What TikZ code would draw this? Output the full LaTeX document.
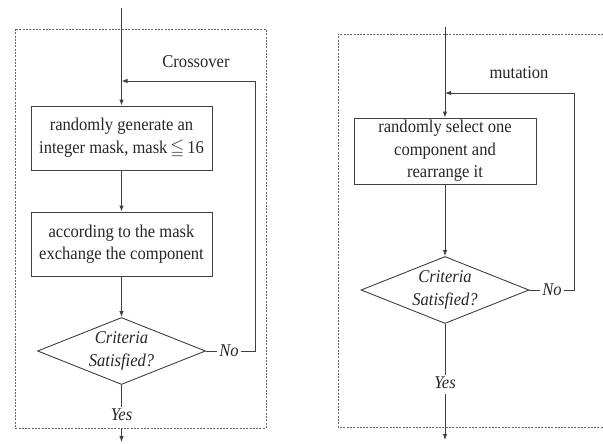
\documentclass[tikz,border=0pt]{standalone}
\usepackage{amssymb}
\usepackage{fontspec}
\setmainfont{Liberation Serif}[FakeStretch=0.92]
\usetikzlibrary{arrows.meta,shapes.geometric}
\begin{document}
\begin{tikzpicture}[x=1pt,y=-1pt,
  every node/.style={font=\fontsize{18}{22.5}\selectfont, text=black!85},
  ln/.style={draw=black!75, line width=0.9pt},
  arr/.style={ln, -{Latex[length=6pt,width=4.5pt]}},
  frame/.style={draw=black!60, line width=0.8pt, dash pattern=on 2pt off 1.3pt},
  procbox/.style={draw=black!75, line width=0.9pt, rectangle, inner sep=1pt, align=center},
  dia/.style={draw=black!75, line width=0.9pt, diamond, inner sep=0pt, minimum width=168pt, minimum height=67pt},
  lbl/.style={inner sep=2pt, font=\fontsize{18}{22.5}\selectfont\itshape}
]
\useasboundingbox (0,0) rectangle (603,444);
% frames
\draw[frame] (15,29) rectangle (266,428);
\draw[frame] (603,34) -- (338,34) -- (338,427) -- (603,427);

% left flow
\coordinate (top1) at (121.5,8);
\node[procbox, minimum width=181pt, minimum height=64pt] (b1) at (121.5,138) {randomly generate an\\integer mask, mask$\,\leqq\,$16};
\node[procbox, minimum width=181pt, minimum height=64pt] (b2) at (121.5,244) {according to the mask\\exchange the component};
\node[dia, label={[lbl, align=center]center:Criteria\\Satisfied?}] (d1) at (121.5,351) {};
\node[lbl] (no1) at (229,351) {No};
\node[lbl] (yes1) at (121.5,415) {Yes};
\node (cross) at (196,62) {Crossover};
\coordinate (f1) at (255,81);
\coordinate (m1) at (121.5,81);
\coordinate (bot1) at (121.5,442);
\coordinate (s1) at (121.5,429);

\draw[arr] (top1) -- (b1.north);
\draw[arr] (b1.south) -- (b2.north);
\draw[arr] (b2.south) -- (d1.north);
\draw[ln] (d1.east) -- (no1.west);
\draw[arr] (no1.east) -| (f1) -- (m1);
\draw[ln] (d1.south) -- (yes1.north);
\draw[arr] (s1) -- (bot1);

% right flow
\coordinate (top2) at (445,27);
\node[procbox, minimum width=182pt, minimum height=66pt] (b3) at (445,151) {randomly select one\\component and\\rearrange it};
\node[dia, label={[lbl, align=center]center:Criteria\\Satisfied?}] (d2) at (445,290) {};
\node[lbl] (no2) at (552,290) {No};
\node[lbl] (yes2) at (445,383) {Yes};
\node (mut) at (519,73) {mutation};
\coordinate (f2) at (574,93);
\coordinate (m2) at (445,93);
\coordinate (bot2) at (445,440);

\draw[arr] (top2) -- (b3.north);
\draw[arr] (b3.south) -- (d2.north);
\draw[ln] (d2.east) -- (no2.west);
\draw[arr] (no2.east) -| (f2) -- (m2);
\draw[ln] (d2.south) -- (yes2.north);
\draw[arr] ([yshift=-3pt]yes2.south) -- (bot2);
\end{tikzpicture}
\end{document}
